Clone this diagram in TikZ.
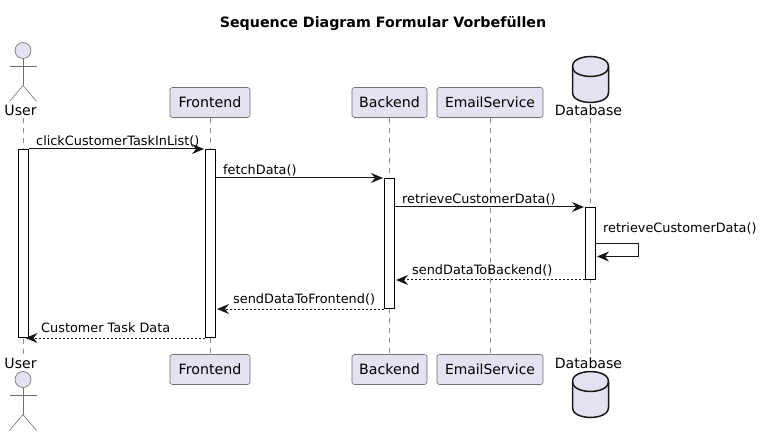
\documentclass[tikz,border=0pt]{standalone}
\usepackage{fontspec}
\setmainfont{DejaVu Sans}
\usetikzlibrary{arrows.meta,calc}
\definecolor{pfill}{HTML}{E2E2F0}
\definecolor{pline}{HTML}{181818}
\definecolor{pthin}{HTML}{707070}
\definecolor{pdash}{HTML}{8C8C8C}
\tikzset{
  x=1pt,y=1pt,
  partbox/.style={draw=pthin,fill=pfill,line width=0.6pt,rounded corners=2.5pt,minimum height=30pt,inner sep=0pt,font=\fontsize{14.2}{14.2}\selectfont,text=black},
  partlabel/.style={inner sep=0pt,font=\fontsize{14.1}{14.1}\selectfont,text=black},
  lifeline/.style={draw=pdash,line width=0.5pt,dash pattern=on 5pt off 5pt},
  actorline/.style={draw=pthin,line width=0.6pt},
  actorhead/.style={draw=pthin,fill=pfill,line width=0.6pt},
  dbshape/.style={draw=pline,fill=pfill,line width=1.5pt},
  actbar/.style={draw=black,fill=white,line width=1pt,inner sep=0pt,minimum width=10pt},
  msg/.style={draw=pline,line width=1pt,-{Stealth[length=12pt,width=10pt,inset=4pt]}},
  retmsg/.style={msg,dash pattern=on 2pt off 2pt},
  msglabel/.style={inner sep=0pt,anchor=base west,font=\fontsize{12.85}{13}\selectfont,text=black},
}
\newcommand{\actorfig}[2]{%
  \draw[actorhead] (#1,#2) circle (8);
  \draw[actorline] (#1,#2-8) -- (#1,#2-35);
  \draw[actorline] (#1-13.5,#2-16) -- (#1+13.5,#2-16);
  \draw[actorline] (#1-13.5,#2-51) -- (#1,#2-35) -- (#1+13.5,#2-51);
}
\newcommand{\dbfig}[2]{%
  \draw[dbshape] (#1-18,#2-10) .. controls (#1-18,#2) and (#1,#2) .. (#1,#2)
     .. controls (#1,#2) and (#1+18,#2) .. (#1+18,#2-10)
     -- (#1+18,#2-36) .. controls (#1+18,#2-46) and (#1,#2-46) .. (#1,#2-46)
     .. controls (#1,#2-46) and (#1-18,#2-46) .. (#1-18,#2-36) -- cycle;
  \draw[dbshape,fill=none] (#1-18,#2-10) .. controls (#1-18,#2-20) and (#1,#2-20) .. (#1,#2-20)
     .. controls (#1,#2-20) and (#1+18,#2-20) .. (#1+18,#2-10);
}
\begin{document}
\begin{tikzpicture}
\useasboundingbox (0,0.5) rectangle (762,-434.5);
\fill[white] (0,0.5) rectangle (762,-434.5);
\node[inner sep=0pt,font=\bfseries\fontsize{14.25}{14}\selectfont] (title) at (383,-23) {Sequence Diagram Formular Vorbefüllen};

% participants
\node[partlabel] (ut) at (20.5,-110) {User};
\node[partlabel] (ub) at (20.5,-363) {User};
\node[partbox,minimum width=80pt] (ft) at (210,-102) {Frontend};
\node[partbox,minimum width=80pt] (fb) at (210,-369) {Frontend};
\node[partbox,minimum width=75pt] (bt) at (389.5,-102) {Backend};
\node[partbox,minimum width=75pt] (bb) at (389.5,-369) {Backend};
\node[partbox,minimum width=106pt,font=\fontsize{13.9}{14}\selectfont] (et) at (490,-102) {EmailService};
\node[partbox,minimum width=106pt,font=\fontsize{13.9}{14}\selectfont] (eb) at (490,-369) {EmailService};
\node[partlabel] (dt) at (588.5,-110) {Database};
\node[partlabel] (db) at (588.5,-363) {Database};

% lifelines
\coordinate (ul) at (23,-118);
\coordinate (ule) at (23,-354);
\coordinate (dl) at (590,-118);
\coordinate (dle) at (590,-354);
\draw[lifeline] (ul) -- (ule);
\draw[lifeline] (ft.south) -- (fb.north);
\draw[lifeline] (bt.south) -- (bb.north);
\draw[lifeline] (et.south) -- (eb.north);
\draw[lifeline] (dl) -- (dle);

% actors and databases
\actorfig{23}{-50}
\actorfig{23}{-379}
\dbfig{590.5}{-56}
\dbfig{590.5}{-371}

% activation bars
\node[actbar,minimum height=188pt] (ua) at (23.5,-243) {};
\node[actbar,minimum height=188pt] (fa) at (210.5,-243) {};
\node[actbar,minimum height=130pt] (ba) at (389.5,-243) {};
\node[actbar,minimum height=72pt] (da) at (590.5,-243) {};

% messages
\draw[msg] (ua.north east) -- ($(fa.north west)+(-1,0)$);
\node[msglabel] (m1) at (36,-145) {clickCustomerTaskInList()};
\draw[msg] (fa.east |- ba.north) -- ($(ba.north west)+(-1,0)$);
\node[msglabel] (m2) at (223,-174) {fetchData()};
\draw[msg] (ba.east |- da.north) -- ($(da.north west)+(-1,0)$);
\node[msglabel] (m3) at (402,-203) {retrieveCustomerData()};
\coordinate (s1) at ($(da.east)+(0,0)$);
\coordinate (s2) at ($(da.east)+(42,0)$);
\coordinate (s3) at ($(da.east)+(42,-13)$);
\coordinate (s4) at ($(da.east)+(1,-13)$);
\draw[msg] (s1) -- (s2) -- (s3) -- (s4);
\node[msglabel] (m4) at (603,-232) {retrieveCustomerData()};
\draw[retmsg] (da.south west) -- ($(ba.east |- da.south)+(1,0)$);
\node[msglabel] (m5) at (412,-274) {sendDataToBackend()};
\draw[retmsg] (ba.south west) -- ($(fa.east |- ba.south)+(1,0)$);
\node[msglabel] (m6) at (233,-303) {sendDataToFrontend()};
\draw[retmsg] (fa.south west) -- ($(ua.south east)+(-3.5,0)$);
\node[msglabel] (m7) at (41,-332) {Customer Task Data};
\end{tikzpicture}
\end{document}
